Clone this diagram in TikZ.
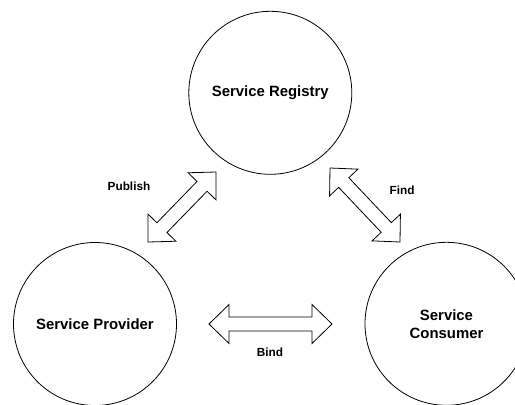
\documentclass[tikz,border=0pt]{standalone}
\usepackage{fontspec}
\setmainfont{Liberation Sans}
\usetikzlibrary{calc}

\tikzset{
  service/.style={circle, draw, line width=0.8pt, minimum size=163pt, inner sep=0pt,
    align=center, font=\bfseries\fontsize{14.9}{18}\selectfont},
  flowlabel/.style={font=\bfseries\fontsize{11.8}{14}\selectfont, inner sep=0pt},
  blockarrow/.style={draw, line width=0.8pt, fill=white, line join=miter},
}

% head length, head half-width, shaft half-width of the double block arrows
\newcommand\ahlen{20pt}
\newcommand\ahwid{19.5pt}
\newcommand\ashaft{7pt}

% double-headed block arrow between two named tip coordinates
\newcommand\blockarrow[2]{%
  \draw[blockarrow] (#1)
    -- ($(#1)!\ahlen!(#2)!\ahwid!90:(#2)$)
    -- ($(#1)!\ahlen!(#2)!\ashaft!90:(#2)$)
    -- ($(#2)!\ahlen!(#1)!\ashaft!-90:(#1)$)
    -- ($(#2)!\ahlen!(#1)!\ahwid!-90:(#1)$)
    -- (#2)
    -- ($(#2)!\ahlen!(#1)!\ahwid!90:(#1)$)
    -- ($(#2)!\ahlen!(#1)!\ashaft!90:(#1)$)
    -- ($(#1)!\ahlen!(#2)!\ashaft!-90:(#2)$)
    -- ($(#1)!\ahlen!(#2)!\ahwid!-90:(#2)$)
    -- cycle;}

\begin{document}
\begin{tikzpicture}[x=1pt,y=-1pt]
\useasboundingbox (0,0) rectangle (515,405);
\clip (0,0) rectangle (515,405);

% the three roles
\node[service] (registry) at (270.3,92.8) {Service Registry};
\node[service] (provider) at (95,324) {Service Provider};
\node[service] (consumer) at (446.5,323.8) {Service\\Consumer};

% arrow tips
\coordinate (pubA) at (148,242);
\coordinate (pubB) at (216,172);
\coordinate (findA) at (330,168);
\coordinate (findB) at (400,242);
\coordinate (bindA) at (209,324);
\coordinate (bindB) at (332,324);

\blockarrow{pubA}{pubB}
\blockarrow{findA}{findB}
\blockarrow{bindA}{bindB}

% interaction labels
\node[flowlabel] (publish) at (129,186) {Publish};
\node[flowlabel] (find) at (402,190) {Find};
\node[flowlabel] (bind) at (270,352) {Bind};
\end{tikzpicture}
\end{document}
